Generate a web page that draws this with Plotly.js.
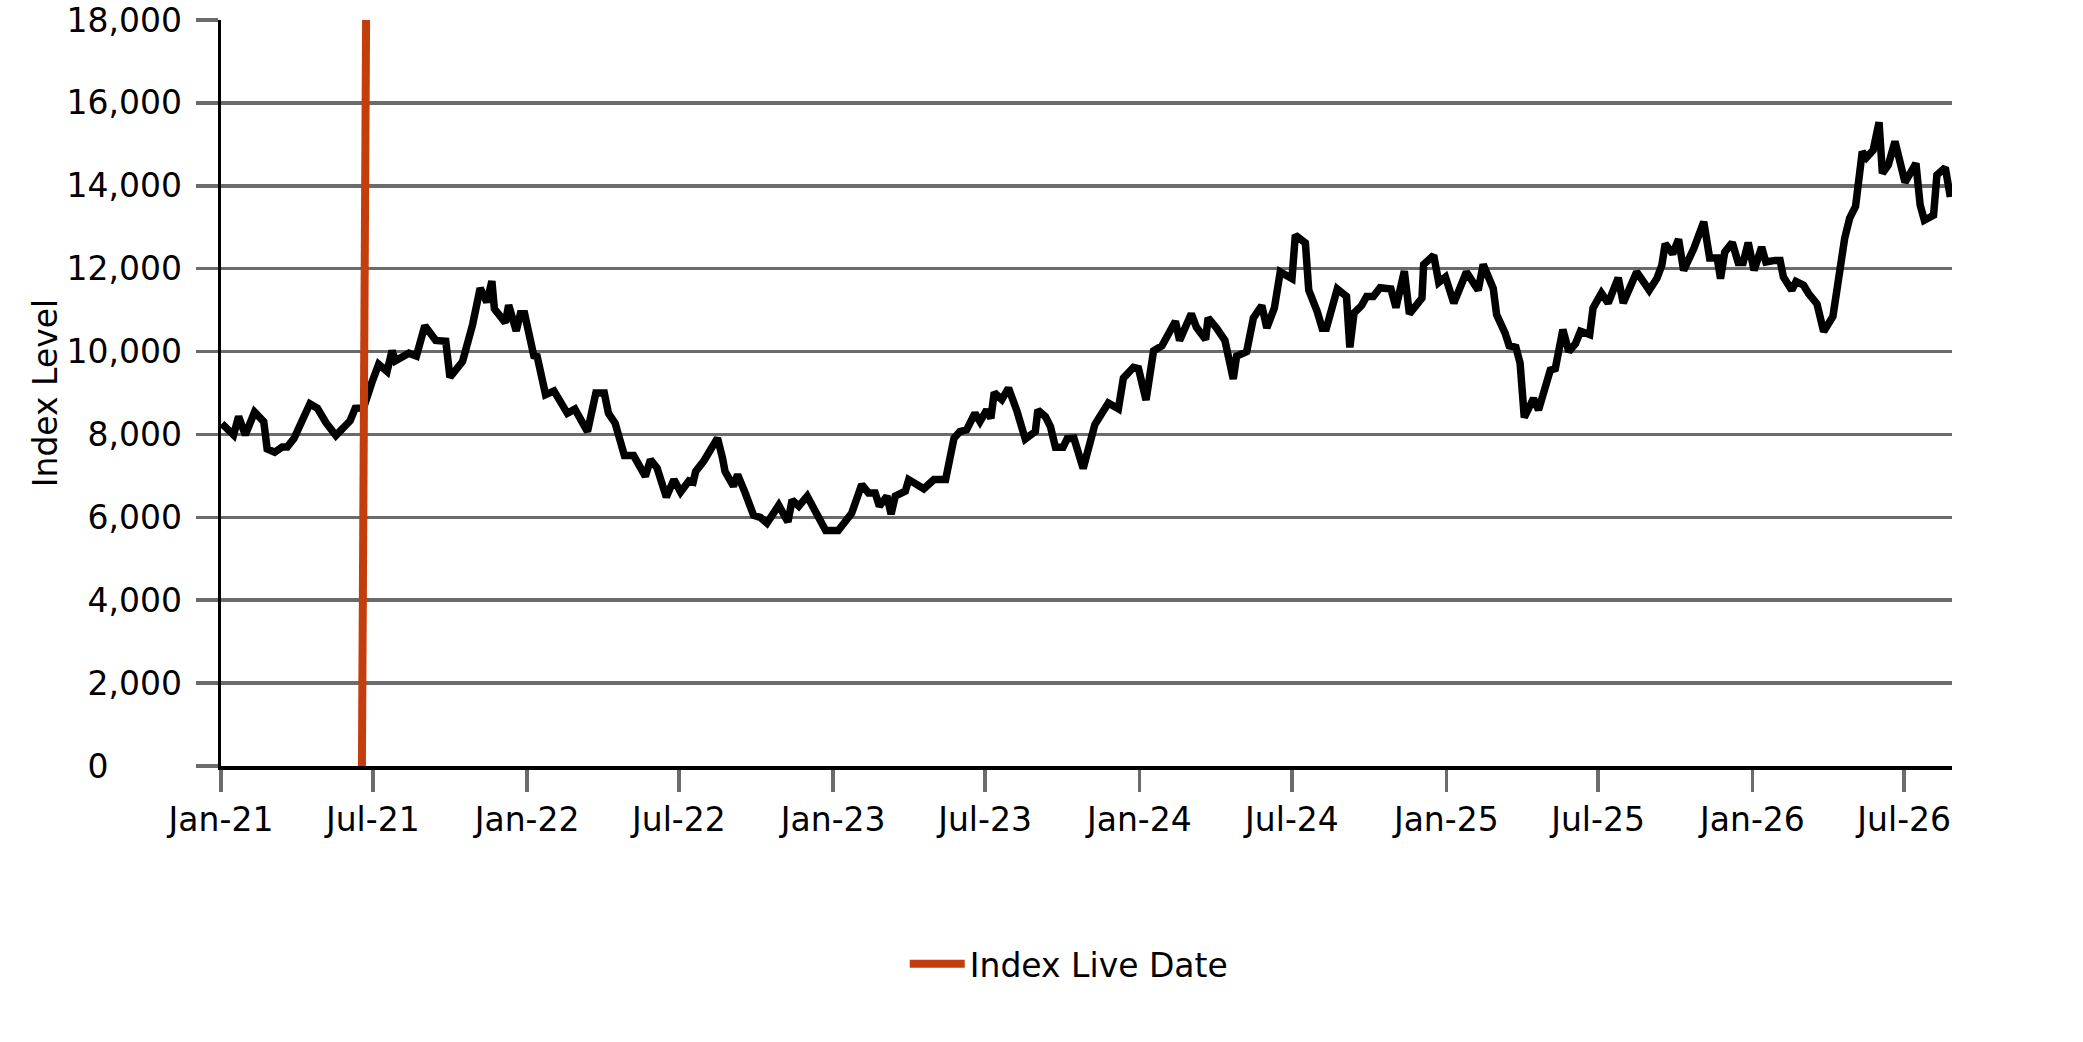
<!DOCTYPE html>
<html>
<head>
<meta charset="utf-8">
<script src="https://cdn.plot.ly/plotly-3.0.1.min.js"></script>
<style>html,body{margin:0;padding:0;background:#fff;}#chart{width:2083px;height:1042px;}</style>
</head>
<body>
<div id="chart"></div>
<script>
// Days since 2021-01-01 of each observation of the index
const indexDays = [1,15,21,29,40,51,55,64,73,79,87,106,115,125,137,146,154,160,170,180,188,198,204,208,224,233,243,256,268,273,288,300,309,317,323,326,339,343,352,357,362,373,377,387,397,413,422,437,447,457,462,470,481,492,506,512,520,531,540,548,558,563,566,576,592,598,601,611,616,625,635,643,651,665,676,681,689,699,707,721,736,746,752,764,772,780,785,794,799,804,816,820,832,838,850,864,874,881,889,899,905,913,918,922,931,939,949,959,971,974,983,989,995,1004,1009,1017,1028,1042,1058,1070,1076,1088,1094,1103,1112,1122,1138,1143,1157,1163,1174,1177,1187,1197,1207,1211,1223,1231,1241,1247,1256,1263,1277,1281,1293,1297,1307,1313,1318,1331,1342,1346,1351,1360,1366,1374,1382,1395,1401,1411,1417,1432,1434,1446,1452,1460,1470,1485,1499,1505,1517,1521,1531,1536,1544,1549,1554,1565,1571,1585,1591,1600,1607,1615,1621,1632,1636,1646,1654,1666,1672,1688,1703,1712,1718,1722,1731,1738,1744,1756,1768,1775,1784,1788,1793,1802,1809,1815,1821,1828,1837,1842,1853,1859,1863,1873,1878,1887,1893,1903,1911,1922,1928,1936,1942,1949,1957,1962,1970,1977,1981,1988,1996,2002,2008,2021,2026,2031,2042,2046,2056,2062];

// Index level at each observation
const indexLevels = [8260,7990,8430,7990,8540,8310,7650,7570,7700,7700,7900,8740,8630,8290,7975,8160,8330,8630,8640,9260,9690,9520,10020,9780,9960,9890,10620,10270,10250,9380,9760,10650,11530,11190,11700,11030,10700,11120,10500,10910,10910,9900,9880,8960,9050,8510,8610,8070,9000,9000,8510,8270,7490,7490,6990,7390,7190,6490,6910,6610,6880,6850,7110,7370,7910,7430,7110,6750,7030,6590,6050,6000,5860,6290,5890,6420,6270,6510,6230,5680,5680,5980,6100,6790,6590,6590,6270,6510,6080,6510,6630,6910,6790,6690,6910,6910,7910,8070,8110,8510,8310,8590,8390,9010,8840,9120,8570,7890,8070,8590,8430,8190,7690,7690,7900,7910,7180,8240,8760,8620,9360,9620,9590,8830,10020,10140,10730,10270,10910,10590,10290,10810,10570,10270,9340,9890,10000,10810,11110,10570,11050,11920,11760,12810,12620,11480,10970,10560,10560,11510,11330,10100,10930,11110,11330,11330,11540,11510,11060,11940,10910,11290,12100,12320,11670,11800,11170,11920,11480,12100,11520,10890,10450,10140,10100,9720,8410,8870,8590,9550,9590,10530,10000,10190,10490,10410,11050,11410,11170,11780,11170,11920,11480,11760,12080,12600,12360,12710,11960,12480,13130,12260,12260,11760,12400,12630,12150,12150,12630,11960,12520,12160,12200,12200,11800,11480,11690,11600,11400,11150,10480,10850,11650,12730,13220,13500,14820,14680,14860,15530,14300,14500,15070,14580,14080,14540,13540,13170,13290,14260,14440,13730];

// Index live date marker: [start day, end day] and level span
const liveDateDays = [168, 173];
const liveDateLevels = [0, 18000];

const xTickDates = ["2021-01-01","2021-07-01","2022-01-01","2022-07-01","2023-01-01","2023-07-01","2024-01-01","2024-07-01","2025-01-01","2025-07-01","2026-01-01","2026-07-01"];
const xTickLabels = ["Jan-21","Jul-21","Jan-22","Jul-22","Jan-23","Jul-23","Jan-24","Jul-24","Jan-25","Jul-25","Jan-26","Jul-26"];
const yTickValues = [0,2000,4000,6000,8000,10000,12000,14000,16000,18000];
const yTickLabels = ["0","2,000","4,000","6,000","8,000","10,000","12,000","14,000","16,000","18,000"];

const START = Date.UTC(2021,0,1);
function dayToDate(d){ return new Date(START + d*86400000).toISOString().slice(0,10); }

const yTickText = yTickLabels.map(function(t){ return t === "0" ? "0" + "\u00a0".repeat(7) : t; });

const traces = [
  {
    type: 'scatter', mode: 'lines',
    x: indexDays.map(dayToDate), y: indexLevels,
    line: {color: '#000000', width: 7.5},
    showlegend: false, hoverinfo: 'skip'
  },
  {
    type: 'scatter', mode: 'lines', name: 'Index Live Date',
    x: liveDateDays.map(dayToDate), y: liveDateLevels,
    line: {color: '#C43D0C', width: 8},
    showlegend: true, hoverinfo: 'skip'
  }
];

const grey = '#6b6b6b';
const layout = {
  width: 2083, height: 1042,
  margin: {l: 221, r: 131, t: 20, b: 276},
  paper_bgcolor: '#ffffff', plot_bgcolor: '#ffffff',
  font: {family: 'DejaVu Sans, sans-serif', size: 33, color: '#000000'},
  showlegend: true,
  legend: {orientation: 'h', x: 0.395, xanchor: 'left', y: -0.265, yanchor: 'middle',
           itemwidth: 55,
           font: {size: 33, color: '#000000'}, bgcolor: 'rgba(0,0,0,0)'},
  xaxis: {
    type: 'date', range: ['2021-01-01', '2026-08-27'],
    tickmode: 'array', tickvals: xTickDates, ticktext: xTickLabels,
    ticks: 'outside', ticklen: 22, tickwidth: 3.5, tickcolor: grey,
    showgrid: false, zeroline: false,
    showline: true, linecolor: '#000000', linewidth: 3.5,
    tickfont: {size: 33, color: '#000000'}
  },
  yaxis: {
    range: [0, 18000],
    tickmode: 'array', tickvals: yTickValues, ticktext: yTickText,
    ticks: 'outside', ticklen: 22, tickwidth: 3.5, tickcolor: grey,
    ticklabelstandoff: 7,
    showgrid: true, gridcolor: grey, gridwidth: 3.5,
    zeroline: false,
    showline: true, linecolor: '#000000', linewidth: 3.5,
    tickfont: {size: 33, color: '#000000'},
    title: {text: 'Index Level', font: {size: 33, color: '#000000'}, standoff: 0}
  }
};

Plotly.newPlot('chart', traces, layout, {displayModeBar: false, staticPlot: true});
</script>
</body>
</html>
